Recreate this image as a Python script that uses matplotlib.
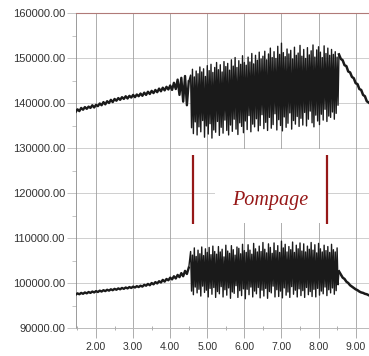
import matplotlib.pyplot as plt
import numpy as np
from matplotlib.patches import Rectangle
from matplotlib.ticker import MultipleLocator, FormatStrFormatter

# time axis (s) and pressure-like signal values (in thousands)
base_t = np.round(np.arange(1.45, 4.51, 0.05), 3)
peak_t = np.round(np.arange(4.55, 8.51, 0.05), 3)
trough_t = peak_t + 0.025
post_t = np.round(np.arange(8.55, 9.36, 0.05), 3)

top_base = [138.0, 138.6, 138.2, 138.9, 138.5, 139.1, 138.7, 139.2, 138.9, 139.5,
            139.0, 139.6, 139.3, 139.9, 139.5, 140.2, 139.7, 140.4, 140.0, 140.7,
            140.2, 140.9, 140.5, 141.1, 140.7, 141.3, 140.9, 141.5, 141.0, 141.6,
            141.2, 141.8, 141.3, 141.9, 141.5, 142.1, 141.6, 142.3, 141.8, 142.5,
            142.0, 142.7, 142.2, 142.9, 142.4, 143.2, 142.6, 143.4, 142.8, 143.6,
            143.0, 143.9, 142.9, 144.5, 143.1, 145.2, 141.8, 145.6, 140.3, 146.0,
            139.5, 144.8]
top_peaks = [146.2, 147.5, 145.8, 147.1, 146.5, 148.0, 146.9, 147.6, 145.9, 148.3,
             147.2, 148.6, 146.8, 147.9, 149.0, 147.4, 148.5, 146.9, 149.2, 148.1,
             148.8, 147.3, 149.6, 148.2, 150.1, 147.9, 149.4, 148.6, 150.5, 149.0,
             148.4, 150.2, 149.1, 151.0, 148.7, 150.6, 149.5, 151.3, 149.8, 150.4,
             151.5, 149.6, 150.9, 152.2, 150.1, 151.4, 149.9, 152.6, 150.8, 153.3,
             151.2, 150.3, 152.0, 150.9, 151.7, 149.8, 152.4, 150.6, 151.1, 152.8,
             150.4, 151.9, 149.9, 152.3, 150.7, 151.6, 152.9, 150.2, 151.8, 152.5,
             151.3, 150.1, 152.7, 151.0, 152.2, 150.6, 151.9, 150.8, 151.4, 150.2]
top_troughs = [134.5, 133.2, 135.8, 132.9, 134.7, 133.6, 136.1, 132.4, 134.9, 133.1,
               135.4, 132.2, 134.0, 133.5, 135.9, 132.8, 134.6, 133.3, 136.2, 133.9,
               132.9, 135.1, 133.7, 136.4, 134.2, 133.0, 135.6, 134.8, 133.4, 136.0,
               134.1, 137.2, 133.6, 135.3, 134.7, 136.5, 133.8, 135.0, 137.4, 134.3,
               135.7, 133.9, 136.8, 134.4, 135.2, 137.6, 134.0, 136.3, 135.0, 133.8,
               136.9, 134.6, 135.5, 137.8, 134.2, 136.1, 135.3, 137.0, 134.8, 136.6,
               135.1, 137.9, 134.9, 136.4, 138.2, 135.6, 134.7, 137.3, 136.0, 135.2,
               137.5, 136.2, 138.6, 135.9, 137.1, 136.8, 138.0, 136.4, 137.7, 139.5]
top_post = [150.8, 149.8, 149.5, 148.4, 148.2, 147.0, 146.8, 145.8, 145.5, 144.4,
            144.2, 143.1, 142.9, 141.8, 141.5, 140.4, 140.1]

low_base = [97.4, 97.7, 97.5, 97.8, 97.6, 97.9, 97.7, 98.0, 97.8, 98.1,
            97.9, 98.2, 98.0, 98.3, 98.1, 98.4, 98.2, 98.5, 98.3, 98.6,
            98.4, 98.7, 98.5, 98.8, 98.6, 98.9, 98.7, 99.0, 98.8, 99.1,
            98.9, 99.2, 99.0, 99.3, 99.1, 99.4, 99.2, 99.6, 99.4, 99.8,
            99.5, 100.0, 99.7, 100.2, 99.9, 100.4, 100.1, 100.7, 100.3, 100.9,
            100.6, 101.2, 100.8, 101.5, 101.0, 101.8, 101.3, 102.2, 101.5, 102.7,
            102.0, 103.4]
low_peaks = [107.0, 106.2, 107.8, 105.9, 107.3, 106.5, 108.0, 106.1, 107.6, 106.8,
             107.9, 106.3, 108.2, 107.0, 106.4, 108.1, 106.9, 107.5, 105.8, 108.4,
             107.1, 106.6, 108.3, 107.4, 106.2, 108.0, 107.7, 106.5, 108.6, 107.2,
             106.8, 108.5, 107.3, 106.4, 108.8, 107.6, 106.9, 108.2, 107.0, 109.0,
             107.5, 106.7, 108.7, 107.9, 106.6, 108.9, 107.2, 108.3, 106.8, 109.3,
             107.8, 108.6, 106.9, 108.1, 107.4, 109.1, 106.8, 108.4, 107.6, 108.9,
             107.1, 108.7, 106.9, 108.2, 107.5, 109.0, 107.3, 108.5, 106.7, 108.8,
             107.6, 106.9, 108.4, 107.2, 108.1, 106.8, 108.6, 107.4, 106.9, 107.8]
low_troughs = [98.2, 97.4, 99.1, 97.8, 98.6, 97.1, 99.3, 97.9, 98.4, 96.9,
               98.8, 97.5, 99.0, 96.8, 98.1, 97.6, 99.2, 96.9, 98.5, 97.3,
               98.9, 96.6, 98.0, 97.7, 99.4, 96.8, 98.3, 97.2, 98.7, 96.5,
               98.6, 97.4, 99.1, 96.9, 98.2, 97.6, 99.0, 96.7, 98.4, 97.1,
               98.8, 96.6, 98.1, 97.8, 99.3, 96.9, 98.5, 97.0, 98.2, 96.7,
               98.9, 97.3, 98.0, 96.8, 99.2, 97.5, 98.4, 96.9, 98.7, 97.2,
               98.3, 96.8, 99.0, 97.4, 98.1, 97.0, 98.6, 96.9, 98.8, 97.3,
               98.2, 97.6, 99.1, 97.2, 98.5, 97.8, 98.9, 97.5, 98.3, 99.6]
low_post = [102.6, 101.9, 101.2, 100.9, 100.3, 100.0, 99.5, 99.2, 98.9, 98.6,
            98.4, 98.1, 97.9, 97.8, 97.6, 97.5, 97.3]

surge_start = 4.61
surge_end = 8.24
label = "Pompage"


def surge(peaks, troughs):
    t = np.empty(2 * len(peak_t))
    v = np.empty(2 * len(peak_t))
    t[0::2], t[1::2] = peak_t, trough_t
    v[0::2], v[1::2] = peaks, troughs
    return t, v * 1000.


fig = plt.figure(figsize=(3.69, 3.56), dpi=100)
ax = fig.add_axes([76/369, 1-328/356, 293/369, 315/356])

ink = '#1a1a1a'
dred = '#961818'

for base, peaks, troughs, post in [(top_base, top_peaks, top_troughs, top_post),
                                   (low_base, low_peaks, low_troughs, low_post)]:
    ax.plot(base_t, np.array(base)*1000., color=ink, lw=1.7, zorder=3)
    st, sv = surge(peaks, troughs)
    st = np.concatenate([[base_t[-1]], st, [post_t[0]]])
    sv = np.concatenate([[base[-1]*1000.], sv, [post[0]*1000.]])
    ax.plot(st, sv, color=ink, lw=1.0, zorder=3)
    ax.plot(post_t, np.array(post)*1000., color=ink, lw=1.8, zorder=3)

# grid
for yv in range(100000, 160000, 10000):
    ax.axhline(yv, color='#c8c8c8', lw=0.6, zorder=0)
for xv in range(2, 10):
    ax.axvline(xv, color='#a0a0a0', lw=0.6, zorder=0)

# blank area behind the annotation
ax.add_patch(Rectangle((5.2, 113300), 3.02, 16500, facecolor='white',
                       edgecolor='none', zorder=1))
ax.vlines([surge_start, surge_end], 113100, 128400, color=dred, lw=1.6, zorder=4)
ax.text(6.69, 118300, label, color=dred, fontsize=14.5, style='italic',
        family='Liberation Serif', ha='center', va='center', zorder=4)

ax.set_xlim(1.46, 9.36)
ax.set_ylim(90000, 160000)
ax.xaxis.set_major_locator(MultipleLocator(1))
ax.xaxis.set_minor_locator(MultipleLocator(0.5))
ax.yaxis.set_major_locator(MultipleLocator(10000))
ax.yaxis.set_minor_locator(MultipleLocator(5000))
ax.xaxis.set_major_formatter(FormatStrFormatter('%.2f'))
ax.yaxis.set_major_formatter(FormatStrFormatter('%.2f'))

for lab in ax.get_xticklabels() + ax.get_yticklabels():
    lab.set_family('Liberation Sans')
ax.tick_params(axis='x', labelsize=7.5, labelcolor='#333333')
ax.tick_params(axis='y', labelsize=8, labelcolor='#333333')
ax.tick_params(axis='x', which='major', length=7, width=0.6, color='#a0a0a0', pad=3)
ax.tick_params(axis='x', which='minor', length=2.5, width=0.6, color='#a0a0a0',
               direction='inout')
ax.tick_params(axis='y', which='major', length=6.5, width=0.6, color='#bbbbbb', pad=1.5)
ax.tick_params(axis='y', which='minor', length=3, width=0.6, color='#bbbbbb')

ax.spines['right'].set_visible(False)
ax.spines['top'].set_color('#b07a78')
ax.spines['top'].set_linewidth(0.8)
ax.spines['left'].set_color('#8a8a8a')
ax.spines['left'].set_linewidth(0.6)
ax.spines['bottom'].set_color('#b0b0b0')
ax.spines['bottom'].set_linewidth(0.6)

fig.savefig('out.png', dpi=100)
